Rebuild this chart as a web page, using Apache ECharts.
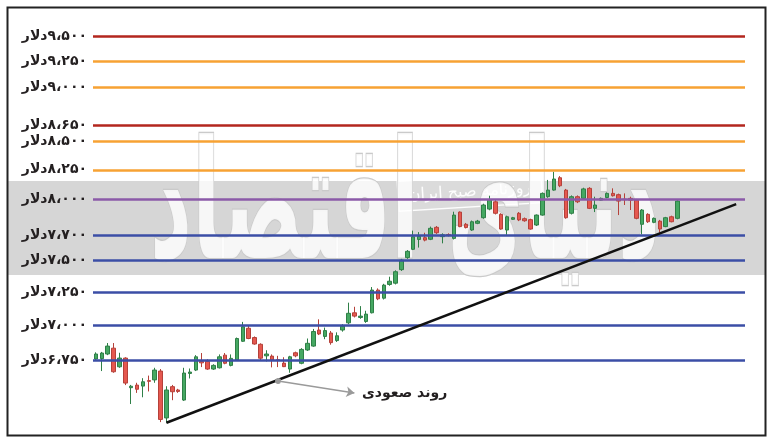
<!DOCTYPE html>
<html>
<head>
<meta charset="utf-8">
<script src="https://cdn.jsdelivr.net/npm/echarts@6/dist/echarts.min.js"></script>
<style>
html,body{margin:0;padding:0;background:#fff;}
#chart{width:773px;height:446px;}
</style>
</head>
<body>
<div id="chart"></div>
<script>
// روزها (محور افقی) - چند روز خالی در انتها برای ادامه خط روند
var days = [];
for (var i = 1; i <= 111; i++) { days.push(String(i)); }

// [open, close, low, high]
var candles = [
  [6757, 6793, 6745, 6805], [6760, 6800, 6672, 6808], [6793, 6850, 6785, 6872], [6835, 6667, 6660, 6872],
  [6702, 6764, 6695, 6802], [6764, 6588, 6574, 6770], [6556, 6566, 6444, 6575], [6574, 6545, 6520, 6590],
  [6567, 6597, 6490, 6622], [6605, 6600, 6530, 6640], [6610, 6679, 6590, 6695], [6672, 6340, 6322, 6686],
  [6350, 6540, 6318, 6566], [6563, 6528, 6470, 6575], [6540, 6530, 6520, 6548], [6471, 6658, 6465, 6695],
  [6655, 6665, 6620, 6690], [6679, 6773, 6672, 6785], [6740, 6730, 6700, 6800], [6740, 6686, 6680, 6755],
  [6686, 6712, 6680, 6720], [6695, 6773, 6690, 6790], [6785, 6727, 6720, 6800], [6712, 6762, 6705, 6790],
  [6750, 6905, 6745, 6912], [6885, 6991, 6880, 7027], [6980, 6905, 6900, 7000], [6912, 6865, 6860, 6920],
  [6863, 6763, 6750, 6870], [6780, 6793, 6740, 6820], [6778, 6750, 6698, 6790], [6752, 6748, 6700, 6780],
  [6728, 6703, 6700, 6770], [6686, 6773, 6660, 6780], [6802, 6780, 6770, 6810], [6727, 6826, 6720, 6835],
  [6822, 6870, 6815, 6905], [6850, 6956, 6845, 6975], [6967, 6938, 6930, 7046], [6920, 6963, 6900, 6985],
  [6945, 6875, 6860, 6960], [6890, 6925, 6880, 6950], [6967, 6995, 6955, 7010], [7020, 7091, 7010, 7171],
  [7095, 7070, 7060, 7140], [7060, 7070, 7050, 7145], [7030, 7085, 7020, 7110], [7095, 7267, 7090, 7290],
  [7267, 7200, 7190, 7280], [7205, 7305, 7195, 7315], [7310, 7335, 7300, 7370], [7320, 7409, 7310, 7420],
  [7425, 7500, 7415, 7510], [7520, 7570, 7510, 7580], [7586, 7687, 7580, 7737], [7665, 7690, 7600, 7725],
  [7680, 7660, 7650, 7720], [7667, 7756, 7660, 7770], [7764, 7720, 7710, 7775], [7688, 7703, 7634, 7715],
  [7705, 7700, 7690, 7715], [7674, 7865, 7665, 7893], [7890, 7770, 7765, 7895], [7789, 7762, 7755, 7800],
  [7742, 7810, 7735, 7820], [7797, 7815, 7790, 7825], [7843, 7949, 7835, 7960], [7915, 7990, 7905, 8027],
  [7976, 7880, 7870, 7990], [7871, 7750, 7745, 7880], [7742, 7851, 7703, 7860], [7830, 7843, 7825, 7850],
  [7880, 7825, 7815, 7890], [7835, 7818, 7810, 7845], [7827, 7750, 7745, 7835], [7783, 7865, 7775, 7870],
  [7865, 8047, 7860, 8055], [8019, 8075, 8010, 8162], [8075, 8170, 8070, 8233], [8181, 8112, 8100, 8195],
  [8075, 7843, 7835, 8085], [7880, 8019, 7870, 8030], [8019, 7976, 7965, 8030], [8005, 8085, 8000, 8095],
  [8090, 7921, 7915, 8100], [7921, 7949, 7890, 8019], [7990, 8005, 7985, 8012], [8012, 8047, 8005, 8055],
  [8047, 8027, 8020, 8090], [8036, 7982, 7865, 8045], [7998, 7994, 7949, 8047], [8005, 7990, 7907, 8019],
  [7990, 7838, 7830, 8000], [7789, 7907, 7707, 7915], [7871, 7810, 7800, 7880], [7805, 7838, 7798, 7845],
  [7815, 7750, 7720, 7825], [7770, 7843, 7765, 7850], [7851, 7810, 7805, 7860], [7838, 7982, 7830, 7990]
];

// سطوح قیمتی
var levels = [9500, 9250, 9000, 8650, 8500, 8250, 8000, 7700, 7500, 7250, 7000, 6750];
var levelLabels = ['۹،۵۰۰', '۹،۲۵۰', '۹،۰۰۰', '۸،۶۵۰', '۸،۵۰۰', '۸،۲۵۰', '۸،۰۰۰', '۷،۷۰۰', '۷،۵۰۰', '۷،۲۵۰', '۷،۰۰۰', '۶،۷۵۰'];
var levelColors = ['#b3261e', '#f7a233', '#f7a233', '#b3261e', '#f7a233', '#f7a233', '#8b5aa8', '#3b4ea6', '#3b4ea6', '#3b4ea6', '#3b4ea6', '#3b4ea6'];

// خط روند و فلش توضیح [روز, قیمت]
var trendStart = [12, 6318], trendEnd = [109, 7957];
var arrowStart = [31, 6602], arrowEnd = [44, 6519];
var trendText = 'روند صعودی';

var chart = echarts.init(document.getElementById('chart'));

var levelLines = [];
for (var k = 0; k < levels.length; k++) {
  levelLines.push({
    yAxis: levels[k],
    lineStyle: { color: levelColors[k] },
    label: { formatter: '\u200F' + levelLabels[k] + 'دلار' }
  });
}

var option = {
  animation: false,
  backgroundColor: '#fff',
  grid: { left: 93, right: 28, top: 36, bottom: 13 },
  xAxis: {
    type: 'category',
    data: days,
    boundaryGap: true,
    show: false
  },
  yAxis: {
    type: 'log',
    min: 6250,
    max: 9500,
    show: false,
    splitLine: { show: false }
  },
  graphic: [
    // نوار خاکستری پس زمینه
    { type: 'rect', z: 0, shape: { x: 8, y: 181, width: 758, height: 94 }, style: { fill: '#d6d6d6' } },
    // واترمارک
    { type: 'text', z: 1, x: 405, y: 215, scaleY: 2,
      style: { text: 'دنیای اقتصاد', align: 'center', verticalAlign: 'middle',
        font: 'bold 82px "DejaVu Sans"', fill: 'rgba(255,255,255,0.8)', stroke: '#cacaca', lineWidth: 1.2 } },
    { type: 'group', z: 1, x: 470, y: 192, rotation: 0.06, children: [
      { type: 'rect', shape: { x: -72, y: -15, width: 144, height: 30 },
        style: { fill: 'rgba(255,255,255,0.12)', stroke: 'rgba(255,255,255,0.95)', lineWidth: 1.5 } },
      { type: 'text', style: { text: 'روزنامه صبح ایران', x: 0, y: 0, align: 'center', verticalAlign: 'middle',
        font: '16px "DejaVu Sans"', fill: 'rgba(255,255,255,0.95)' } }
    ] },
    { type: 'text', z: 10, x: 362, y: 393,
      style: { text: trendText, align: 'left', verticalAlign: 'middle',
        font: 'bold 14px "DejaVu Sans"', fill: '#231f20' } },
    // کادر
    { type: 'rect', z: 10, shape: { x: 7.5, y: 7.5, width: 758, height: 428 },
      style: { fill: 'none', stroke: '#222', lineWidth: 2 } }
  ],
  series: [
    {
      name: 'levels',
      type: 'line',
      data: [],
      z: 2,
      silent: true,
      markLine: {
        silent: true,
        symbol: ['none', 'none'],
        lineStyle: { type: 'solid', width: 2.5 },
        label: { position: 'start', distance: 6, fontSize: 14, fontWeight: 'bold',
          fontFamily: 'DejaVu Sans', color: '#231f20' },
        data: levelLines
      }
    },
    {
      name: 'price',
      type: 'candlestick',
      z: 3,
      barWidth: 4,
      data: candles,
      itemStyle: {
        color: '#45a862', color0: '#e5584f',
        borderColor: '#2f7f47', borderColor0: '#b5413a', borderWidth: 1
      }
    },
    {
      name: 'trend',
      type: 'line',
      data: [],
      z: 4,
      silent: true,
      markLine: {
        silent: true,
        symbol: ['none', 'none'],
        label: { show: false },
        data: [
          [
            { coord: [days[trendStart[0]], trendStart[1]], lineStyle: { color: '#111', width: 2.5, type: 'solid' } },
            { coord: [days[trendEnd[0]], trendEnd[1]] }
          ],
          [
            { coord: [days[arrowStart[0]], arrowStart[1]], symbol: 'circle', symbolSize: 6,
              lineStyle: { color: '#9a9a9a', width: 1.5, type: 'solid' }, itemStyle: { color: '#9a9a9a' } },
            { coord: [days[arrowEnd[0]], arrowEnd[1]], symbol: 'arrow', symbolSize: 8, itemStyle: { color: '#9a9a9a' } }
          ]
        ]
      }
    }
  ]
};

chart.setOption(option);
</script>
</body>
</html>
